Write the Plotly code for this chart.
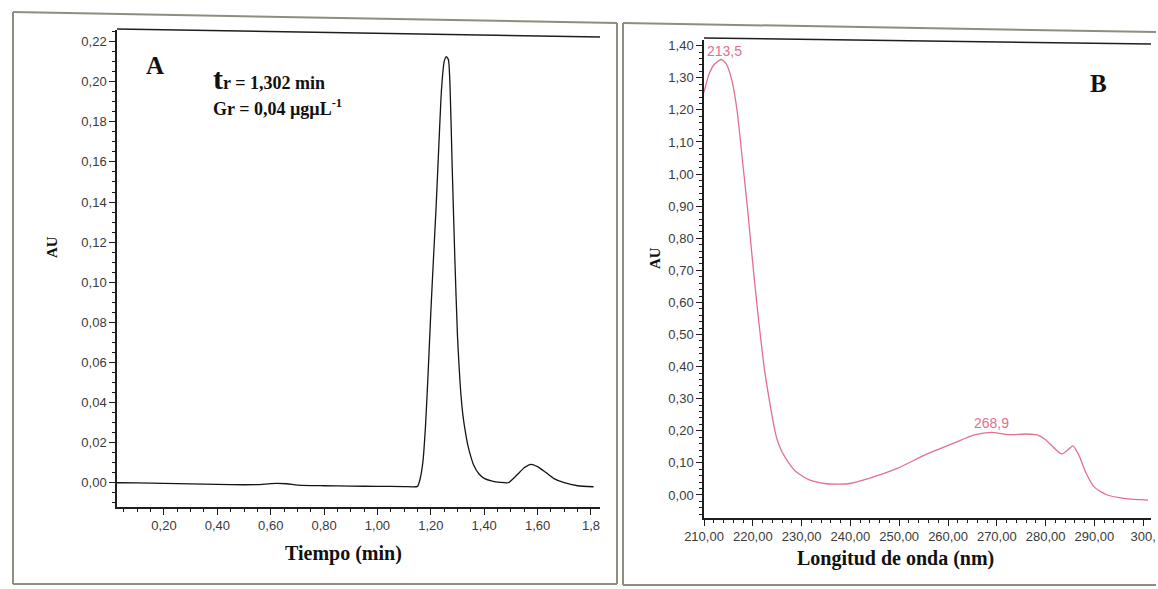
import plotly.graph_objects as go

# ---------------- data ----------------
# Panel A: chromatogram (time in min, absorbance AU)
time_min = [0.02, 0.10, 0.20, 0.30, 0.40, 0.50, 0.56, 0.60, 0.66, 0.70, 0.80, 0.90, 1.00, 1.10,
            1.15, 1.16, 1.17, 1.18, 1.19, 1.20, 1.21, 1.22, 1.23, 1.24, 1.25, 1.258, 1.266,
            1.272, 1.28, 1.29, 1.30, 1.31, 1.32, 1.33, 1.34, 1.35, 1.36, 1.38, 1.40,
            1.43, 1.46, 1.49, 1.52, 1.55, 1.575, 1.60, 1.63, 1.66, 1.70, 1.75, 1.81]
au_a = [0.0000, -0.0001, -0.0003, -0.0006, -0.0008, -0.0010, -0.0009, -0.0004, -0.0005, -0.0012,
        -0.0015, -0.0017, -0.0018, -0.0019, -0.0018, 0.0020, 0.0100, 0.0280, 0.0550, 0.0850,
        0.1120, 0.1380, 0.1680, 0.1960, 0.2100, 0.2125, 0.2110, 0.1980, 0.1580, 0.1120,
        0.0730, 0.0490, 0.0340, 0.0250, 0.0180, 0.0130, 0.0090, 0.0045, 0.0022, 0.0008, 0.0002,
        0.0000, 0.0035, 0.0075, 0.0092, 0.0080, 0.0052, 0.0022, 0.0000, -0.0015, -0.0020]

# Panel B: UV spectrum (wavelength nm, absorbance AU)
wavelength_nm = [210, 211, 212, 213.5, 214.5, 215.7, 216.8, 217.9, 219.0, 220.0, 220.8, 221.6,
                 222.4, 223.4, 224.4, 225.0, 225.8, 226.6, 227.5, 228.8, 231.6, 235.2, 239.5,
                 243.8, 249.6, 255.3, 261.1, 265.4, 268.9, 272.5, 276.1, 278.3, 280.0, 281.5,
                 283.3, 284.5, 285.6, 286.8, 288.3, 290.1, 292.6, 296.4, 301.0]
au_b = [1.255, 1.310, 1.340, 1.357, 1.345, 1.293, 1.195, 1.040, 0.880, 0.720, 0.600, 0.490,
        0.390, 0.295, 0.210, 0.172, 0.140, 0.118, 0.097, 0.073, 0.047, 0.035, 0.035,
        0.052, 0.083, 0.125, 0.161, 0.187, 0.195, 0.188, 0.190, 0.187, 0.172, 0.150,
        0.128, 0.140, 0.153, 0.125, 0.068, 0.023, 0.000, -0.011, -0.016]

peak_labels_nm = [213.5, 268.9]
peak_labels_au = [1.357, 0.195]

# tick values / labels
a_xticks = [0.2, 0.4, 0.6, 0.8, 1.0, 1.2, 1.4, 1.6, 1.8]
a_xtext = ["0,20", "0,40", "0,60", "0,80", "1,00", "1,20", "1,40", "1,60", "1,8"]
a_yticks = [0.00, 0.02, 0.04, 0.06, 0.08, 0.10, 0.12, 0.14, 0.16, 0.18, 0.20, 0.22]
a_ytext = ["0,00", "0,02", "0,04", "0,06", "0,08", "0,10", "0,12", "0,14", "0,16", "0,18", "0,20", "0,22"]
b_xticks = [210, 220, 230, 240, 250, 260, 270, 280, 290, 300]
b_xtext = ["210,00", "220,00", "230,00", "240,00", "250,00", "260,00", "270,00", "280,00", "290,00", "300,"]
b_yticks = [0.0, 0.1, 0.2, 0.3, 0.4, 0.5, 0.6, 0.7, 0.8, 0.9, 1.0, 1.1, 1.2, 1.3, 1.4]
b_ytext = ["0,00", "0,10", "0,20", "0,30", "0,40", "0,50", "0,60", "0,70", "0,80", "0,90",
           "1,00", "1,10", "1,20", "1,30", "1,40"]

# ---------------- layout helpers ----------------
W, H = 1158, 589
def px(x):
    return x / W
def py(y):
    return 1 - y / H

SERIF = "Liberation Serif, Times New Roman, serif"
SANS = "Liberation Sans, Arial, sans-serif"
AXC = "#1e1e1e"
PINK = "#e2708c"
FRAME = "#8e8e7e"

fig = go.Figure()
fig.add_trace(go.Scatter(x=time_min, y=au_a, mode="lines", xaxis="x", yaxis="y",
                         line=dict(color="#151515", width=1.3, shape="spline", smoothing=0.5),
                         showlegend=False, hoverinfo="skip"))
fig.add_trace(go.Scatter(x=wavelength_nm, y=au_b, mode="lines", xaxis="x2", yaxis="y2",
                         line=dict(color=PINK, width=1.3, shape="spline", smoothing=0.6),
                         showlegend=False, hoverinfo="skip"))

tickfont = dict(family=SANS, size=13, color="#3a3a3a")
common = dict(showgrid=False, zeroline=False, showline=True, linecolor=AXC, linewidth=1.5,
              ticks="outside", ticklen=6, tickwidth=1.2, tickcolor=AXC, tickfont=tickfont,
              fixedrange=True, automargin=False)

def minor(dt, t0):
    return dict(tickmode="linear", dtick=dt, tick0=t0, ticks="outside", ticklen=3,
                tickwidth=1, tickcolor=AXC, showgrid=False)

fig.update_layout(
    width=W, height=H, margin=dict(l=0, r=0, t=0, b=0, pad=0), autosize=False,
    paper_bgcolor="white", plot_bgcolor="white",
    xaxis=dict(domain=[px(117), px(600)], range=[0.024, 1.834], anchor="y",
               tickmode="array", tickvals=a_xticks, ticktext=a_xtext,
               minor=minor(0.05, 0), **common),
    yaxis=dict(domain=[py(507), py(30)], range=[-0.0121, 0.2258], anchor="x",
               tickmode="array", tickvals=a_yticks, ticktext=a_ytext,
               minor=minor(0.005, 0), **common),
    xaxis2=dict(domain=[px(704), px(1151)], range=[210, 301.6], anchor="y2",
                tickmode="array", tickvals=b_xticks, ticktext=b_xtext,
                minor=minor(2, 210), **common),
    yaxis2=dict(domain=[py(518), py(40)], range=[-0.0717, 1.4178], anchor="x2",
                tickmode="array", tickvals=b_yticks, ticktext=b_ytext,
                minor=minor(0.02, 0), **common),
)

shapes = []
# outer frames (scanned page borders)
def seg(x0, y0, x1, y1, color=FRAME, width=2):
    shapes.append(dict(type="line", xref="paper", yref="paper",
                       x0=px(x0), y0=py(y0), x1=px(x1), y1=py(y1),
                       line=dict(color=color, width=width)))
seg(13, 12, 617, 23)
seg(13, 12, 13, 584)
seg(13, 584, 617, 584)
seg(617, 23, 617, 584)
seg(623, 23, 1156, 32)
seg(623, 23, 623, 585)
seg(623, 585, 1156, 585)
# top border lines of the plot areas
seg(117, 29, 600, 37, color=AXC, width=1.5)
seg(704, 38, 1151, 44, color=AXC, width=1.5)
fig.update_layout(shapes=shapes)

ann = []
def text(x, y, t, size, family=SERIF, color="#111", bold=True, angle=0, xanchor="center"):
    ann.append(dict(xref="paper", yref="paper", x=px(x), y=py(y), text=(f"<b>{t}</b>" if bold else t),
                    showarrow=False, font=dict(family=family, size=size, color=color),
                    textangle=angle, xanchor=xanchor, yanchor="middle"))

text(155, 65, "A", 25)
text(211, 78, "<span style='font-size:30px'>t</span>r = 1,302 min", 18, xanchor="left")
text(211, 108, "Gr = 0,04 µgµL<sup>-1</sup>", 18, xanchor="left")
text(52, 247, "AU", 15, angle=-90)
text(343, 553, "Tiempo (min)", 20)
text(1098, 83, "B", 25)
text(655, 258, "AU", 15, angle=-90)
text(895, 558, "Longitud de onda (nm)", 20)

# peak labels from the data
for nm, au, dx in zip(peak_labels_nm, peak_labels_au, [0.8, 0.0]):
    ann.append(dict(xref="x2", yref="y2", x=nm + dx, y=au, text=f"{nm:.1f}".replace(".", ","),
                    showarrow=False, yanchor="bottom", xanchor="center", yshift=-1,
                    font=dict(family=SANS, size=14, color=PINK)))

fig.update_layout(annotations=ann)
fig.write_html("out.html")
